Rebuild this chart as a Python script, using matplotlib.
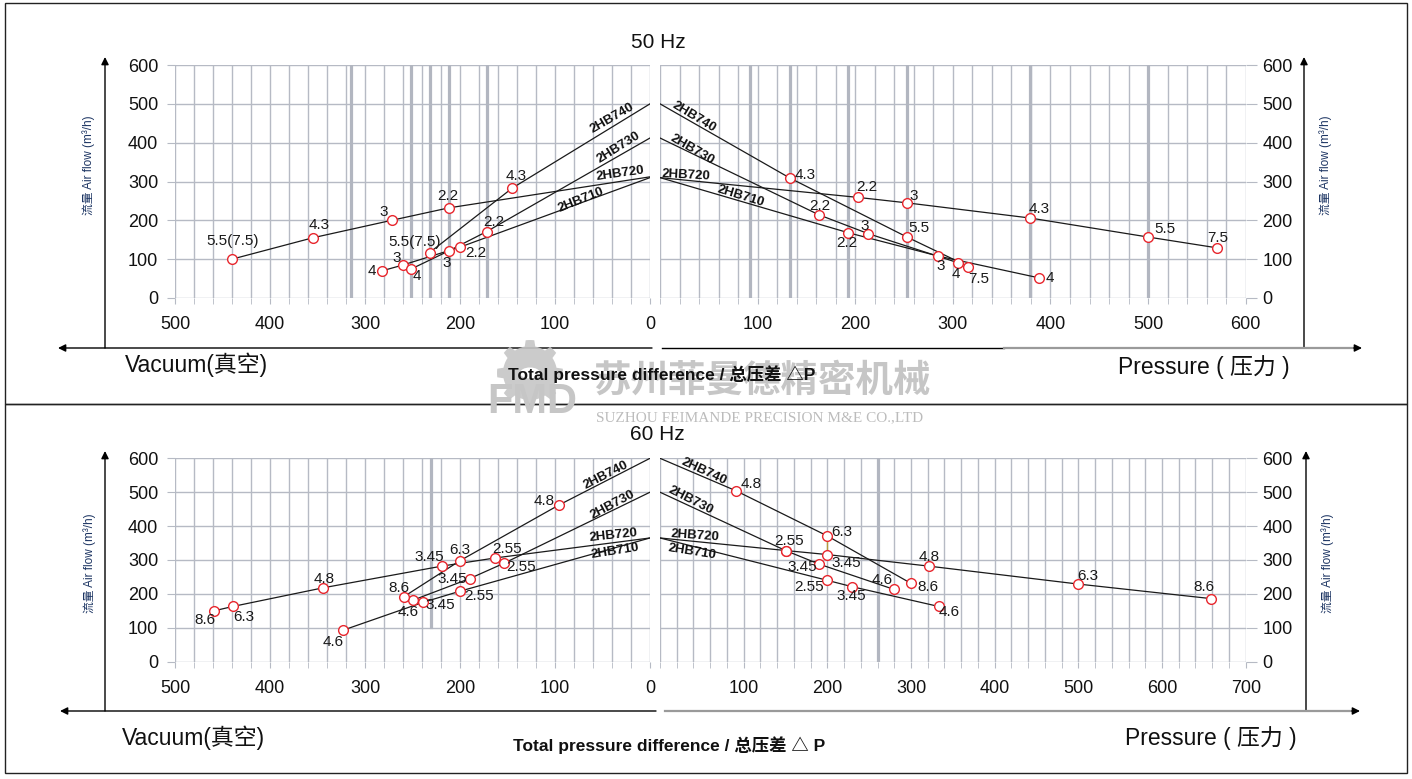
import numpy as np
import matplotlib
matplotlib.use('Agg')
import matplotlib.pyplot as plt
from matplotlib.lines import Line2D
from matplotlib.patches import Polygon, Circle, Rectangle, FancyArrowPatch

plt.rcParams['font.family'] = ['Liberation Sans', 'Noto Sans CJK SC', 'DejaVu Sans']

W, H = 1412, 779

models = ['2HB710', '2HB720', '2HB730', '2HB740']

# 50 Hz, vacuum side: pressure difference (mbar), air flow (m3/h); the point at 0 is the open end
vac50_x = {'2HB710': [282, 260, 200, 0], '2HB720': [440, 355, 272, 212, 0],
           '2HB730': [252, 212, 172, 0], '2HB740': [232, 145, 0]}
vac50_y = {'2HB710': [70, 85, 131, 310], '2HB720': [100, 155, 200, 232, 312],
           '2HB730': [74, 121, 171, 412], '2HB740': [117, 283, 500]}
vac50_kw = {'2HB710': ['4', '3', '2.2'], '2HB720': ['5.5(7.5)', '4.3', '3', '2.2'],
            '2HB730': ['4', '3', '2.2'], '2HB740': ['5.5(7.5)', '4.3']}

# 50 Hz, pressure side
pre50_x = {'2HB710': [0, 193, 285, 388], '2HB720': [0, 203, 253, 379, 500, 571],
           '2HB730': [0, 163, 213, 305], '2HB740': [0, 133, 253, 316]}
pre50_y = {'2HB710': [310, 168, 108, 52], '2HB720': [310, 259, 245, 206, 157, 129],
           '2HB730': [412, 214, 166, 91], '2HB740': [500, 309, 157, 81]}
pre50_kw = {'2HB710': ['2.2', '3', '4'], '2HB720': ['2.2', '3', '4.3', '5.5', '7.5'],
            '2HB730': ['2.2', '3', '4'], '2HB740': ['4.3', '5.5', '7.5']}

# 60 Hz, vacuum side
vac60_x = {'2HB710': [323, 239, 200, 0], '2HB720': [459, 439, 344, 219, 163, 0],
           '2HB730': [249, 190, 154, 0], '2HB740': [259, 200, 96, 0]}
vac60_y = {'2HB710': [93, 175, 208, 365], '2HB720': [150, 163, 218, 282, 306, 365],
           '2HB730': [182, 245, 290, 500], '2HB740': [192, 298, 462, 600]}
vac60_kw = {'2HB710': ['4.6', '3.45', '2.55'], '2HB720': ['8.6', '6.3', '4.8', '3.45', '2.55'],
            '2HB730': ['4.6', '3.45', '2.55'], '2HB740': ['8.6', '6.3', '4.8']}

# 60 Hz, pressure side
pre60_x = {'2HB710': [0, 200, 230, 333], '2HB720': [0, 150, 200, 321, 500, 659],
           '2HB730': [0, 150, 190, 280], '2HB740': [0, 91, 200, 300]}
pre60_y = {'2HB710': [365, 240, 221, 163], '2HB720': [365, 328, 316, 282, 229, 186],
           '2HB730': [500, 328, 288, 213], '2HB740': [600, 504, 371, 231]}
pre60_kw = {'2HB710': ['2.55', '3.45', '4.6'], '2HB720': ['2.55', '3.45', '4.8', '6.3', '8.6'],
            '2HB730': ['2.55', '3.45', '4.6'], '2HB740': ['4.8', '6.3', '8.6']}

# label offsets (pixels) for the kW numbers
vac50_off = {'2HB710': [(-10, 0), (-6, 7), (16, -6)], '2HB720': [(1, 18), (6, 13), (-8, 8), (-1, 12)],
             '2HB730': [(6, -7), (-2, -12), (7, 10)], '2HB740': [(-15, 11), (4, 12)]}
pre50_off = {'2HB710': [(-2, -10), (2, -10), (11, 0)], '2HB720': [(9, 10), (7, 7), (9, 9), (17, 8), (0, 10)],
             '2HB730': [(1, 9), (-3, 8), (-2, -11)], '2HB740': [(15, 3), (12, 9), (10, -12)]}
vac60_off = {'2HB710': [(-10, -12), (17, -3), (19, -5)], '2HB720': [(-9, -9), (11, -11), (1, 9), (-13, 9), (12, 9)],
             '2HB730': [(-5, -12), (-17, 0), (17, -4)], '2HB740': [(-5, 9), (0, 11), (-15, 4)]}
pre60_off = {'2HB710': [(-18, -7), (-1, -9), (11, -6)], '2HB720': [(4, 10), (19, -8), (1, 9), (9, 8), (-7, 12)],
             '2HB730': [(4, 10), (-17, -3), (-12, 9)], '2HB740': [(15, 7), (14, 4), (17, -4)]}

# model name placement (data coords, rotation)
vac50_names = {'2HB740': (40, 462, 30), '2HB730': (33, 388, 32), '2HB720': (31, 320, 8), '2HB710': (73, 253, 22)}
pre50_names = {'2HB740': (35, 466, -31), '2HB730': (33, 382, -30), '2HB720': (27, 315, -3), '2HB710': (83, 262, -17)}
vac60_names = {'2HB740': (46, 551, 27), '2HB730': (39, 462, 28), '2HB720': (39, 373, 6), '2HB710': (37, 325, 9)}
pre60_names = {'2HB740': (53, 560, -25), '2HB730': (36, 477, -27), '2HB720': (42, 373, -4), '2HB710': (38, 325, -9)}

grid_c = '#b6bac4'
thick_c = '#b2b6c0'
red = '#e8262d'


def rect(x0, y0, x1, y1):
    return [x0 / W, 1 - y1 / H, (x1 - x0) / W, (y1 - y0) / H]


def setup_axes(ax, xlim, xlabels, side, thick):
    ax.set_xlim(xlim)
    ax.set_ylim(0, 600)
    hi = max(xlim)
    ax.set_xticks(np.arange(0, hi + 1, 20), minor=True)
    ax.set_xticks(xlabels)
    ax.set_xticklabels([str(v) for v in xlabels])
    ax.set_yticks(np.arange(0, 601, 100))
    ax.grid(which='both', axis='x', color=grid_c, lw=1.0)
    ax.grid(which='major', axis='y', color=grid_c, lw=1.0)
    for v, lo in thick:
        ax.axvline(v, ymin=lo, color=thick_c, lw=2.3, zorder=0.6)
    for s in ax.spines.values():
        s.set_visible(False)
    ax.tick_params(axis='x', which='both', direction='out', length=4, color=grid_c,
                   labelsize=13, pad=9, labelcolor='#111111')
    if side == 'left':
        ax.tick_params(axis='y', length=6, color=grid_c, labelsize=13, pad=6, labelcolor='#111111')
    else:
        ax.yaxis.tick_right()
        ax.tick_params(axis='y', length=8, color=grid_c, labelsize=13, pad=4, labelcolor='#111111')
    ax.set_axisbelow(True)


def draw_series(ax, xs, ys, kws, offs, names):
    done = set()
    for m in models:
        x = xs[m]
        y = ys[m]
        ax.plot(x, y, color='#1a1a1a', lw=0.9, zorder=3)
        px = [a for a in x if a != 0]
        py = [b for a, b in zip(x, y) if a != 0]
        ax.plot(px, py, 'o', ms=7, mfc='white', mec=red, mew=1.0, zorder=4)
        for a, b, t, o in zip(px, py, kws[m], offs[m]):
            if (a, b, t) in done:
                continue
            done.add((a, b, t))
            ax.annotate(t, (a, b), xytext=o, textcoords='offset pixels', ha='center', va='center',
                        fontsize=11, color='#1a1a1a', zorder=5)
        nx, ny, rot = names[m]
        ax.text(nx, ny, m, rotation=rot, rotation_mode='anchor', ha='center', va='center',
                fontsize=9.5, fontweight='bold', color='#111111', zorder=5)


fig = plt.figure(figsize=(W / 100, H / 100), dpi=100)

ax1 = fig.add_axes(rect(175, 65, 650, 298))
setup_axes(ax1, (500, 0), [500, 400, 300, 200, 100, 0], 'left',
           [(315, 0), (252, 0), (232, 0), (212, 0), (172, 0)])
draw_series(ax1, vac50_x, vac50_y, vac50_kw, vac50_off, vac50_names)

ax2 = fig.add_axes(rect(660, 65, 1245.7, 298))
setup_axes(ax2, (0, 600), [100, 200, 300, 400, 500, 600], 'right',
           [(92, 0), (133, 0), (193, 0), (253, 0), (379, 0), (500, 0)])
draw_series(ax2, pre50_x, pre50_y, pre50_kw, pre50_off, pre50_names)

ax3 = fig.add_axes(rect(175, 458.3, 650, 661.7))
setup_axes(ax3, (500, 0), [500, 400, 300, 200, 100, 0], 'left', [(231, 0.17)])
draw_series(ax3, vac60_x, vac60_y, vac60_kw, vac60_off, vac60_names)

ax4 = fig.add_axes(rect(660, 458.3, 1245.7, 661.7))
setup_axes(ax4, (0, 700), [100, 200, 300, 400, 500, 600, 700], 'right', [(260, 0)])
draw_series(ax4, pre60_x, pre60_y, pre60_kw, pre60_off, pre60_names)
# short link between the 2HB740 6.3 kW and 2HB720 3.45 kW points
ax4.plot([pre60_x['2HB740'][2], pre60_x['2HB720'][2]], [pre60_y['2HB740'][2], pre60_y['2HB720'][2]],
         color='#b59a3c', lw=1.0, zorder=2)


def P(x, y):
    return (x / W, 1 - y / H)


def fline(x0, y0, x1, y1, color='black', lw=1.0):
    fig.add_artist(Line2D([x0 / W, x1 / W], [1 - y0 / H, 1 - y1 / H], color=color, lw=lw,
                          transform=fig.transFigure))


def farrow(x0, y0, x1, y1, color='black'):
    fig.add_artist(FancyArrowPatch(P(x0, y0), P(x1, y1), transform=fig.transFigure,
                                   arrowstyle='-|>', mutation_scale=11, lw=1.0, color=color,
                                   shrinkA=0, shrinkB=0))


# panel frames
fig.add_artist(Rectangle(P(5, 404), 1402 / W, 401 / H, transform=fig.transFigure,
                         fill=False, ec='#222222', lw=1.0))
fig.add_artist(Rectangle(P(5, 773), 1402 / W, 369 / H, transform=fig.transFigure,
                         fill=False, ec='#222222', lw=1.0))

# axis arrows, top panel
farrow(105, 348, 105, 57)
farrow(1304, 348, 1304, 57)
farrow(652, 348, 58, 348)
fline(662, 348, 1004, 348)
fline(1004, 348, 1352, 348, color='#9a9a9a', lw=1.6)
farrow(1340, 348, 1362, 348)

# axis arrows, bottom panel
farrow(105, 711, 105, 451)
farrow(1306, 711, 1306, 451)
farrow(656, 711, 60, 711)
fline(665, 711, 1350, 711, color='#9a9a9a', lw=1.6)
farrow(1338, 711, 1360, 711)

# titles and labels
fig.text(*P(658, 42), '50 Hz', ha='center', va='center', fontsize=15, color='#111111')
fig.text(*P(657, 435), '60 Hz', ha='center', va='center', fontsize=15, color='#111111')

ylab = '流量 Air flow (m³/h)'
for (x, y) in [(89, 165), (1326, 165), (90, 563), (1328, 563)]:
    fig.text(*P(x, y), ylab, rotation=90, ha='center', va='center', fontsize=8.5, color='#1d3563')

big = 16.5
fig.text(*P(125, 365), 'Vacuum(真空)', ha='left', va='center', fontsize=big, color='#111111')
fig.text(*P(1118, 367), 'Pressure ( 压力 )', ha='left', va='center', fontsize=big, color='#111111')
fig.text(*P(122, 738), 'Vacuum(真空)', ha='left', va='center', fontsize=big, color='#111111')
fig.text(*P(1125, 738), 'Pressure ( 压力 )', ha='left', va='center', fontsize=big, color='#111111')

# watermark
wm = '#c6c6c6'
t = np.linspace(0, 2 * np.pi, 97)
r = 27 + 6 * (np.cos(8 * t) > 0.3)
cx, cy = 530, 373
gear = np.column_stack([(cx + r * np.cos(t)) / W, 1 - (cy + r * np.sin(t)) / H])
fig.add_artist(Polygon(gear, closed=True, transform=fig.transFigure, fc=wm, ec='none', alpha=0.9, zorder=10))
fig.add_artist(Circle(P(cx, cy), 10 / W, transform=fig.transFigure, fc='white', ec='none', zorder=10))
fig.text(*P(532, 402), 'FMD', ha='center', va='center', fontsize=30, fontweight='bold',
         color=wm, zorder=11)
fig.text(*P(762, 380), '苏州菲曼德精密机械', ha='center', va='center', fontsize=27, fontweight='bold',
         color=wm, zorder=11, family=['Noto Sans CJK SC'])
fig.text(*P(760, 418), 'SUZHOU FEIMANDE PRECISION M&E CO.,LTD', ha='center', va='center', fontsize=11,
         color='#bcbcbc', zorder=11, family=['Liberation Serif'])

fig.text(*P(662, 374), 'Total pressure difference / 总压差 △P', ha='center', va='center',
         fontsize=12.5, fontweight='bold', color='#111111', zorder=12)
fig.text(*P(669, 745), 'Total pressure difference / 总压差 △ P', ha='center', va='center',
         fontsize=12.5, fontweight='bold', color='#111111')

fig.savefig('out.png', dpi=100)
